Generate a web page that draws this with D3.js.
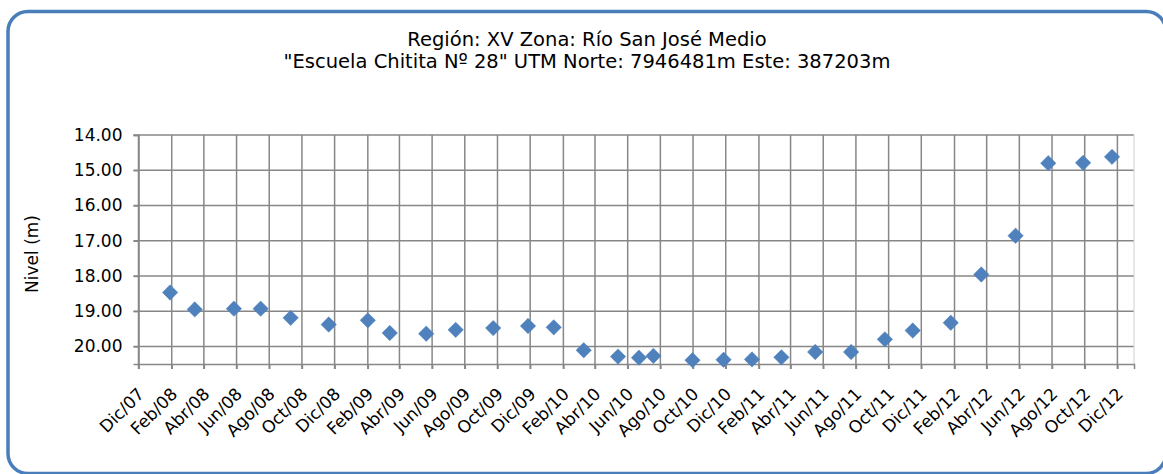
<!DOCTYPE html>
<html>
<head>
<meta charset="utf-8">
<script src="https://cdn.jsdelivr.net/npm/d3@7"></script>
<style>
  body { margin: 0; background: #fff; }
  text { font-family: "DejaVu Sans", Verdana, sans-serif; fill: #000; }
</style>
</head>
<body>
<div id="chart"></div>
<script>
// size of the page and the plot area
const w = 1163;
const h = 474;
const plot = { left: 138.5, top: 135, right: 1134, bottom: 364 };

// chart data: measurement dates and water level (m)
const fechas = [
  "2008-01-29", "2008-03-15", "2008-05-27", "2008-07-16", "2008-09-10", "2008-11-20",
  "2009-02-01", "2009-03-14", "2009-05-21", "2009-07-15", "2009-09-23", "2009-11-27",
  "2010-01-14", "2010-03-11", "2010-05-14", "2010-06-22", "2010-07-19", "2010-09-30",
  "2010-11-27", "2011-01-19", "2011-03-15", "2011-05-17", "2011-07-23", "2011-09-24",
  "2011-11-15", "2012-01-25", "2012-03-22", "2012-05-25", "2012-07-25", "2012-09-28",
  "2012-11-21"
];
const niveles = [
  18.47, 18.95, 18.93, 18.93, 19.19, 19.38,
  19.26, 19.62, 19.64, 19.53, 19.48, 19.42,
  19.46, 20.11, 20.29, 20.32, 20.27, 20.39,
  20.38, 20.37, 20.31, 20.16, 20.16, 19.80,
  19.55, 19.33, 17.96, 16.86, 14.80, 14.79,
  14.62
];

// axis settings
const meses = ["Ene", "Feb", "Mar", "Abr", "May", "Jun", "Jul", "Ago", "Sep", "Oct", "Nov", "Dic"];
const xInicio = "2007-12-01";
const xFin = "2013-01-01";
const ultimaMarca = "2012-12-01";
const yTicks = [14, 15, 16, 17, 18, 19, 20];
const yMin = 14, yMax = 20.5;

const titulo = [
  "Región: XV Zona: Río San José Medio",
  "\"Escuela Chitita Nº 28\" UTM Norte: 7946481m Este: 387203m"
];
const yTitulo = "Nivel (m)";

const parse = d3.timeParse("%Y-%m-%d");
const data = fechas.map((f, i) => ({ fecha: parse(f), nivel: niveles[i] }));

const svg = d3.select("#chart").append("svg")
  .attr("width", w)
  .attr("height", h);

svg.append("rect").attr("width", w).attr("height", h).attr("fill", "#fff");

// outer rounded frame
svg.append("rect")
  .attr("x", 8).attr("y", 11.5)
  .attr("width", 1158).attr("height", 462)
  .attr("rx", 20).attr("ry", 20)
  .attr("fill", "none")
  .attr("stroke", "#4A7EBB")
  .attr("stroke-width", 3.5);

// scales
const xScale = d3.scaleTime()
  .domain([parse(xInicio), parse(xFin)])
  .range([plot.left, plot.right]);

const yScale = d3.scaleLinear()
  .domain([yMin, yMax])
  .range([plot.top, plot.bottom]);

const xTicks = d3.timeMonth.range(parse(xInicio), d3.timeDay.offset(parse(ultimaMarca), 1), 2);
const fmtX = d => meses[d.getMonth()] + "/" + d3.timeFormat("%y")(d);

const gridColor = "#878787";

// horizontal gridlines
svg.append("g")
  .selectAll("line")
  .data(yTicks)
  .join("line")
  .attr("x1", plot.left - 5).attr("x2", plot.right)
  .attr("y1", d => yScale(d)).attr("y2", d => yScale(d))
  .attr("stroke", gridColor).attr("stroke-width", 1.5);

// vertical gridlines
svg.append("g")
  .selectAll("line")
  .data(xTicks)
  .join("line")
  .attr("x1", d => xScale(d)).attr("x2", d => xScale(d))
  .attr("y1", plot.top).attr("y2", plot.bottom + 5)
  .attr("stroke", gridColor).attr("stroke-width", 1.5);

// right edge of plot area
svg.append("line")
  .attr("x1", plot.right).attr("x2", plot.right)
  .attr("y1", plot.top).attr("y2", plot.bottom)
  .attr("stroke", "#d0d0d0").attr("stroke-width", 1);

// y axis
const yAxis = d3.axisLeft(yScale)
  .tickValues(yTicks)
  .tickFormat(d3.format(".2f"))
  .tickSize(5)
  .tickPadding(11);

const gy = svg.append("g")
  .attr("transform", "translate(" + plot.left + ",0)")
  .call(yAxis);
gy.select(".domain").attr("stroke", gridColor).attr("stroke-width", 1.5);
gy.selectAll(".tick line").attr("stroke", gridColor).attr("stroke-width", 1.5);
gy.selectAll("text").style("font-size", "17px");

// x axis
const xAxis = d3.axisBottom(xScale)
  .tickValues(xTicks)
  .tickFormat(fmtX)
  .tickSize(5);

const gx = svg.append("g")
  .attr("transform", "translate(0," + plot.bottom + ")")
  .call(xAxis);
gx.select(".domain").attr("stroke", gridColor).attr("stroke-width", 1.5);
gx.selectAll(".tick line").attr("stroke", gridColor).attr("stroke-width", 1.5);
gx.selectAll("text")
  .style("font-size", "17px")
  .attr("text-anchor", "end")
  .attr("dy", "0.35em")
  .attr("transform", "translate(2,27) rotate(-45)")
  .attr("y", 0).attr("x", 0);

// points
svg.append("g")
  .selectAll("path")
  .data(data)
  .join("path")
  .attr("d", d3.symbol(d3.symbolSquare, 118))
  .attr("transform", d => "translate(" + xScale(d.fecha) + "," + yScale(d.nivel) + ") rotate(45)")
  .attr("fill", "#4F81BD")
  .attr("stroke", "#4A7EBB")
  .attr("stroke-width", 0.5);

// title
svg.append("text")
  .attr("x", 587)
  .attr("y", 46)
  .attr("text-anchor", "middle")
  .style("font-size", "19.5px")
  .selectAll("tspan")
  .data(titulo)
  .join("tspan")
  .attr("x", 587)
  .attr("dy", (d, i) => i === 0 ? 0 : 22)
  .text(d => d);

// y axis title
svg.append("text")
  .attr("transform", "translate(38,254) rotate(-90)")
  .attr("text-anchor", "middle")
  .style("font-size", "17px")
  .text(yTitulo);
</script>
</body>
</html>
